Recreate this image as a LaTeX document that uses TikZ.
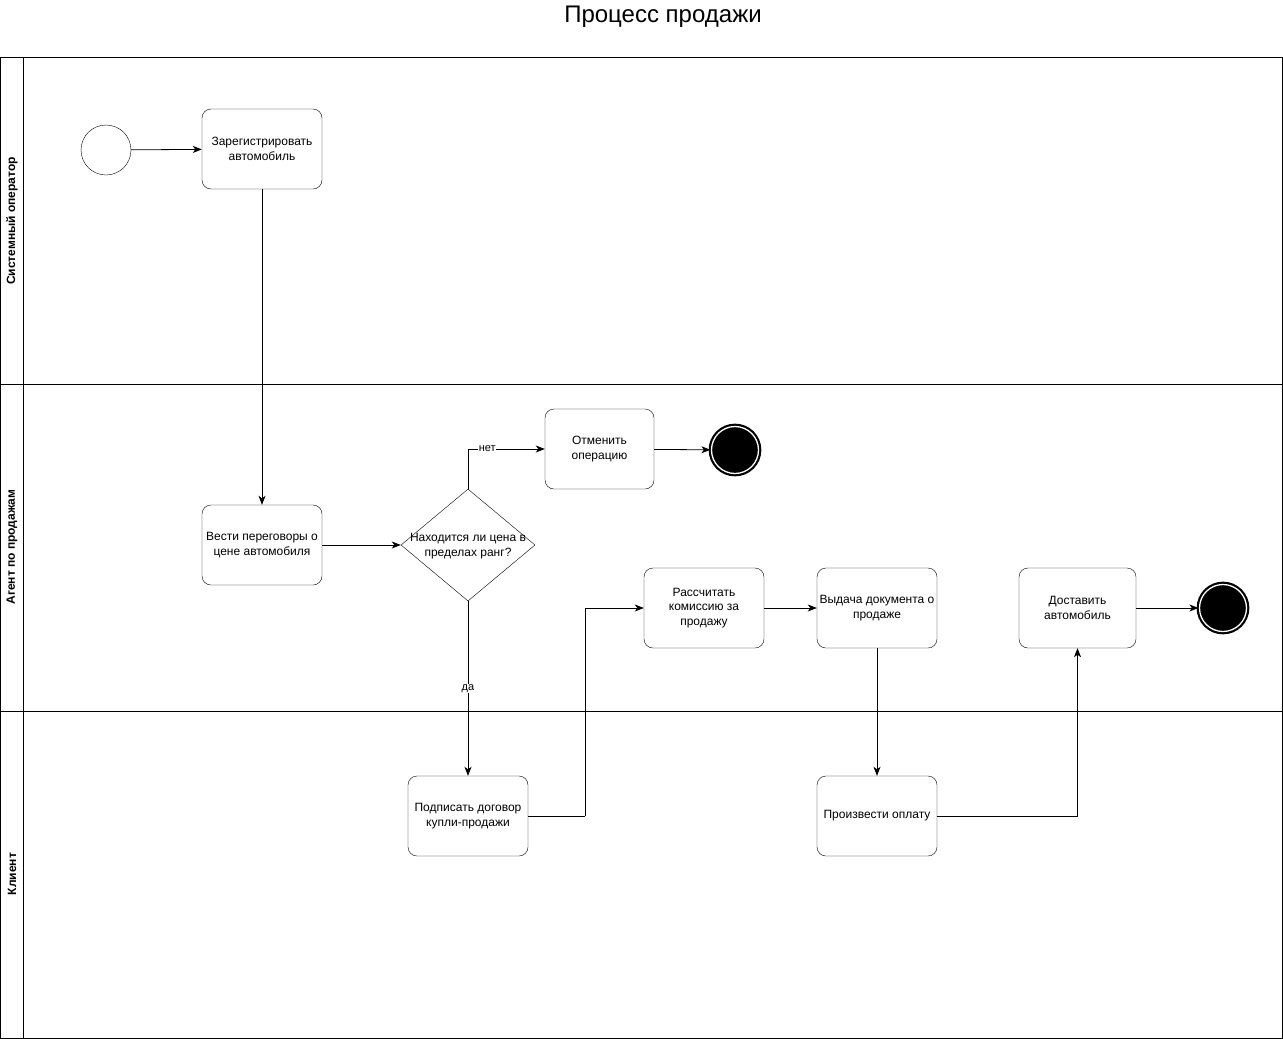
\documentclass[tikz,border=0pt]{standalone}
\usepackage{fontspec}
\setmainfont{Liberation Sans}
\usetikzlibrary{shapes.geometric,arrows.meta}
\begin{document}
\begin{tikzpicture}[x=1pt,y=-1pt,
  task/.style={draw,rounded corners=9pt,minimum width=120pt,minimum height=80pt,inner sep=0pt,align=center,font=\fontsize{12}{14.5}\selectfont},
  gateway/.style={draw,diamond,minimum width=134pt,minimum height=112pt,inner sep=0pt},
  txt/.style={align=center,font=\fontsize{12}{14.5}\selectfont},
  startev/.style={draw,circle,minimum size=50pt,inner sep=0pt},
  endev/.style={draw,circle,fill=black,minimum size=47pt,inner sep=0pt,line width=2.2pt,double=white,double distance=1.3pt},
  flow/.style={-{Stealth[length=9pt,width=7pt,inset=2.5pt]},line width=0.8pt},
  lane/.style={font=\bfseries\fontsize{12}{14}\selectfont,rotate=90},
  guard/.style={fill=white,inner sep=0.5pt,font=\fontsize{11}{13}\selectfont}]
\useasboundingbox (0,0) rectangle (1283,1039);

% title
\node[font=\fontsize{24}{28}\selectfont] (title) at (663,17) {Процесс продажи};

% pool and lanes
\draw[line width=0.8pt] (0,57) rectangle (1282,1038);
\draw[line width=0.8pt] (23,57) -- (23,1038);
\draw[line width=0.8pt] (0,384) -- (1282,384);
\draw[line width=0.8pt] (0,711) -- (1282,711);
\node[lane] (l1) at (12,221) {Системный оператор};
\node[lane] (l2) at (12,547) {Агент по продажам};
\node[lane] (l3) at (12,874) {Клиент};

% events, tasks and the gateway
\node[startev] (start) at (106,150) {};
\node[task] (reg) at (262,149) {Зарегистрировать\\автомобиль};
\node[task] (neg) at (262,545) {Вести переговоры о\\цене автомобиля};
\node[gateway] (gw) at (468,545) {};
\node[txt] (gwt) at ([yshift=-1pt]gw.center) {Находится ли цена в\\пределах ранг?};
\node[task,minimum width=109pt] (cancel) at (599.5,449) {Отменить\\операцию};
\node[endev] (end1) at (735,450) {};
\node[task] (sign) at (468,816) {Подписать договор\\купли-продажи};
\node[task] (calc) at (704,608) {Рассчитать\\комиссию за\\продажу};
\node[task] (doc) at (877,608) {Выдача документа о\\продаже};
\node[task] (pay) at (877,816) {Произвести оплату};
\node[task,minimum width=117pt] (deliver) at (1077.5,608) {Доставить\\автомобиль};
\node[endev] (end2) at (1223,608) {};
\coordinate (j1) at (585,816);

% sequence flows
\draw[flow] (start) -- (reg);
\draw[flow] (reg) -- (neg);
\draw[flow] (neg) -- (gw);
\draw[flow] (gw.north) |- node[guard,pos=0.625] {нет} (cancel);
\draw[flow] (cancel) -- (end1);
\draw[flow] (gw.south) -- node[guard,pos=0.5] {да} (sign);
\draw[line width=0.8pt] (sign) -- (j1);
\draw[flow] (j1) |- (calc);
\draw[flow] (calc) -- (doc);
\draw[flow] (doc) -- (pay);
\draw[flow] (pay) -| (deliver);
\draw[flow] (deliver) -- (end2);
\end{tikzpicture}
\end{document}
